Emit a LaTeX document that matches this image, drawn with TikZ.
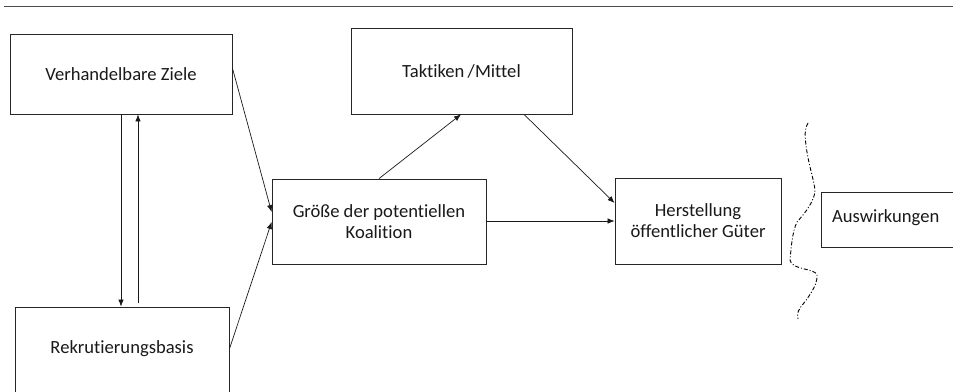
\documentclass[tikz,border=0pt]{standalone}
\usepackage{fontspec}
\setmainfont{Carlito}[Ligatures={NoCommon}]
\usetikzlibrary{arrows.meta}
\begin{document}
\begin{tikzpicture}[x=1pt,y=-1pt,
  txt/.style={font=\fontsize{18.6}{21}\selectfont,text=black!90},
  box/.style={draw=black!85,line width=0.8pt,inner sep=0pt,align=center,txt},
  conn/.style={draw=black!90,line width=0.7pt,-{Latex[length=7pt,width=5.5pt]}},
  plain/.style={draw=black!90,line width=0.7pt}]
\useasboundingbox (0,0) rectangle (953,391);
\clip (0,0) rectangle (953,391);
\draw[line width=0.9pt,black!70] (4,6.5) -- (953,6.5);
\node[box,minimum width=222pt,minimum height=80pt] (ziele) at (121,74) {Verhandelbare Ziele};
\node[box,minimum width=214pt,minimum height=110pt] (rekr) at (122,362) {};
\node[txt] (rekrt) at (122,349) {Rekrutierungsbasis};
\node[box,minimum width=214pt,minimum height=85pt] (gr) at (379,221.5) {Größe der potentiellen\\Koalition};
\node[box,minimum width=221pt,minimum height=86pt] (takt) at (461.5,71) {Taktiken\,/\kern0.3pt Mittel};
\node[box,minimum width=166pt,minimum height=86pt] (herst) at (698,221) {Herstellung\\öffentlicher Güter};
\node[box,minimum width=150pt,minimum height=55pt] (ausw) at (896,219.5) {};
\node[txt,anchor=west,inner sep=0pt] (auswt) at (832,218) {Auswirkungen};
% vertical pair
\draw[conn] (ziele.south -| 121,0) -- (rekr.north -| 121,0);
\coordinate (upstart) at (138,303);
\draw[conn] (upstart) -- (ziele.south -| upstart);
% into Groesse
\draw[conn] (ziele.east |- 0,68) -- (gr.west |- 0,212);
\draw[conn] (rekr.east |- 0,349) -- (gr.west |- 0,222);
\draw[conn] (gr.north -| 379,0) -- (takt.south -| 461,0);
\draw[conn] (takt.south -| 524,0) -- (herst.west |- 0,203);
\draw[conn] (gr.east |- 0,221) -- (herst.west |- 0,221);
% wavy dash-dotted boundary
\draw[line width=0.9pt,dash pattern=on 4pt off 2pt on 1pt off 2pt]
  (808,123) .. controls (804,130) and (805,137) .. (806,145)
  .. controls (808,163) and (814,180) .. (815,190)
  .. controls (815,200) and (806,212) .. (797,222)
  .. controls (792,232) and (791,250) .. (790,260)
  .. controls (791,270) and (815,268) .. (817,275)
  .. controls (818,285) and (808,298) .. (800,308)
  .. controls (797,313) and (797,316) .. (798,319);
\end{tikzpicture}
\end{document}
